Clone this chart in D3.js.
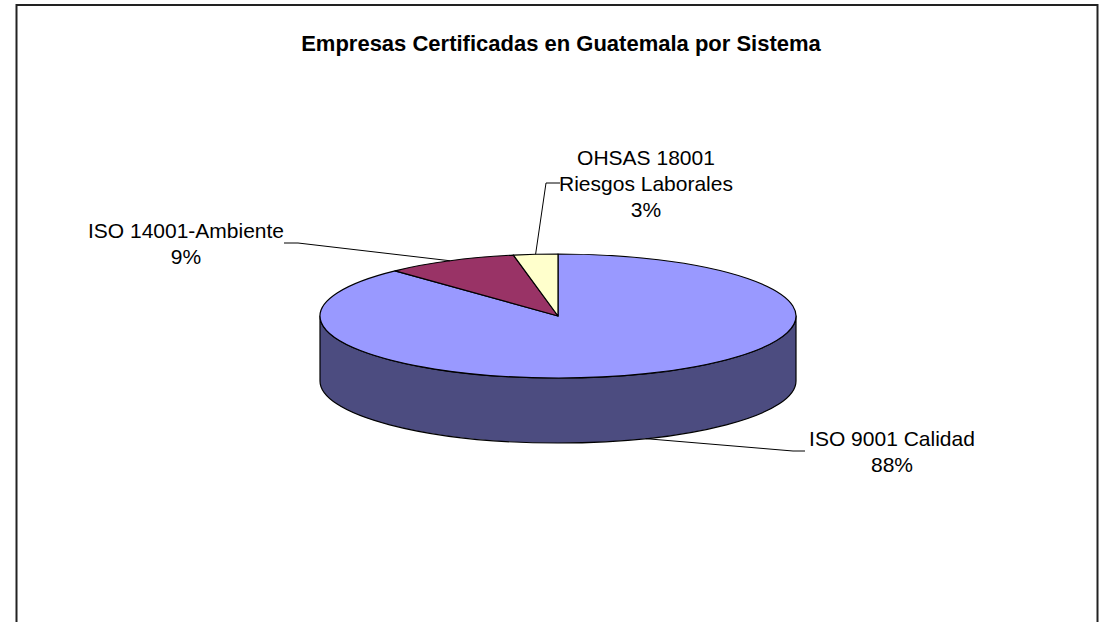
<!DOCTYPE html>
<html lang="es">
<head>
  <meta charset="UTF-8" />
  <title>Empresas Certificadas en Guatemala por Sistema</title>
  <style>
    body {
      margin: 0;
      background-color: #fff;
      font-family: "Liberation Sans", Arial, sans-serif;
    }

    svg {
      display: block;
    }

    .slice {
      stroke: #000;
      stroke-width: 1.2px;
      stroke-linejoin: round;
    }

    .leader {
      fill: none;
      stroke: #000;
      stroke-width: 1px;
    }

    .label {
      font-size: 21px;
      fill: #000;
    }
  </style>
</head>
<body>
  <svg width="1099" height="622"></svg>

  <script src="https://d3js.org/d3.v7.min.js"></script>
  <script>
    // data
    const categories = ["ISO 9001 Calidad", "ISO 14001-Ambiente", "OHSAS 18001 Riesgos Laborales"];
    const labelLines = [["ISO 9001 Calidad", "88%"], ["ISO 14001-Ambiente", "9%"], ["OHSAS 18001", "Riesgos Laborales", "3%"]];
    const values = [88, 9, 3];
    const topColors = ["#9999ff", "#993366", "#ffffcc"];
    const sideColors = ["#4c4c80", "#4d1a33", "#808066"];

    const width = 1099, height = 622;
    const cx = 558, cy = 316, rx = 238, ry = 62, depth = 65;

    // where each label sits (text anchor x, first baseline y) and where its leader bends
    const labelLayout = [
      { x: 892, y: 446, elbow: [793, 451], end: [805, 451] },
      { x: 186, y: 238, elbow: [298, 243], end: [284, 243] },
      { x: 646, y: 165, elbow: [546, 183], end: [560, 183] }
    ];

    const svg = d3.select("svg");

    // chart frame
    svg.append("rect")
      .attr("x", 16.5).attr("y", 5)
      .attr("width", 1081).attr("height", 640)
      .attr("fill", "#fff")
      .attr("stroke", "#222")
      .attr("stroke-width", 2);

    svg.append("text")
      .attr("x", 561)
      .attr("y", 51)
      .attr("text-anchor", "middle")
      .attr("font-weight", "bold")
      .attr("font-size", 22)
      .text("Empresas Certificadas en Guatemala por Sistema");

    const color = d3.scaleOrdinal().domain(categories).range(topColors);
    const sideColor = d3.scaleOrdinal().domain(categories).range(sideColors);

    const pie = d3.pie().sort(null).value(d => d.value);
    const arcs = pie(categories.map((c, i) => ({ name: c, value: values[i] })));

    // angle measured clockwise from 12 o'clock, like d3.pie
    const pt = (a, dy = 0) => [cx + rx * Math.sin(a), cy + dy - ry * Math.cos(a)];

    function topPath(d) {
      const p0 = pt(d.startAngle), p1 = pt(d.endAngle);
      const large = d.endAngle - d.startAngle > Math.PI ? 1 : 0;
      return `M${cx},${cy}L${p0}A${rx},${ry} 0 ${large} 1 ${p1}Z`;
    }

    function sidePath(d) {
      const s = Math.max(d.startAngle, Math.PI / 2);
      const e = Math.min(d.endAngle, Math.PI * 1.5);
      if (e <= s) return null;
      const t0 = pt(s), t1 = pt(e), b0 = pt(s, depth), b1 = pt(e, depth);
      return `M${t0}A${rx},${ry} 0 0 1 ${t1}L${b1}A${rx},${ry} 0 0 0 ${b0}Z`;
    }

    const g = svg.append("g");

    g.selectAll("path.side")
      .data(arcs.filter(d => sidePath(d)))
      .join("path")
      .attr("class", "slice side")
      .attr("fill", d => sideColor(d.data.name))
      .attr("d", sidePath);

    g.selectAll("path.top")
      .data(arcs)
      .join("path")
      .attr("class", "slice top")
      .attr("fill", d => color(d.data.name))
      .attr("d", topPath);

    // leader lines: from the slice's mid angle on the visible rim
    const lines = svg.append("g");
    arcs.forEach((d, i) => {
      const mid = (d.startAngle + d.endAngle) / 2;
      const front = Math.cos(mid) < 0;
      const start = pt(mid, front ? depth : 0);
      const L = labelLayout[i];
      lines.append("path")
        .attr("class", "leader")
        .attr("d", d3.line()([start, L.elbow, L.end]));

      const t = svg.append("text")
        .attr("class", "label")
        .attr("text-anchor", "middle")
        .attr("x", L.x)
        .attr("y", L.y);
      labelLines[i].forEach((s, j) => {
        t.append("tspan")
          .attr("x", L.x)
          .attr("dy", j === 0 ? 0 : 26)
          .text(s);
      });
    });
  </script>
</body>
</html>
